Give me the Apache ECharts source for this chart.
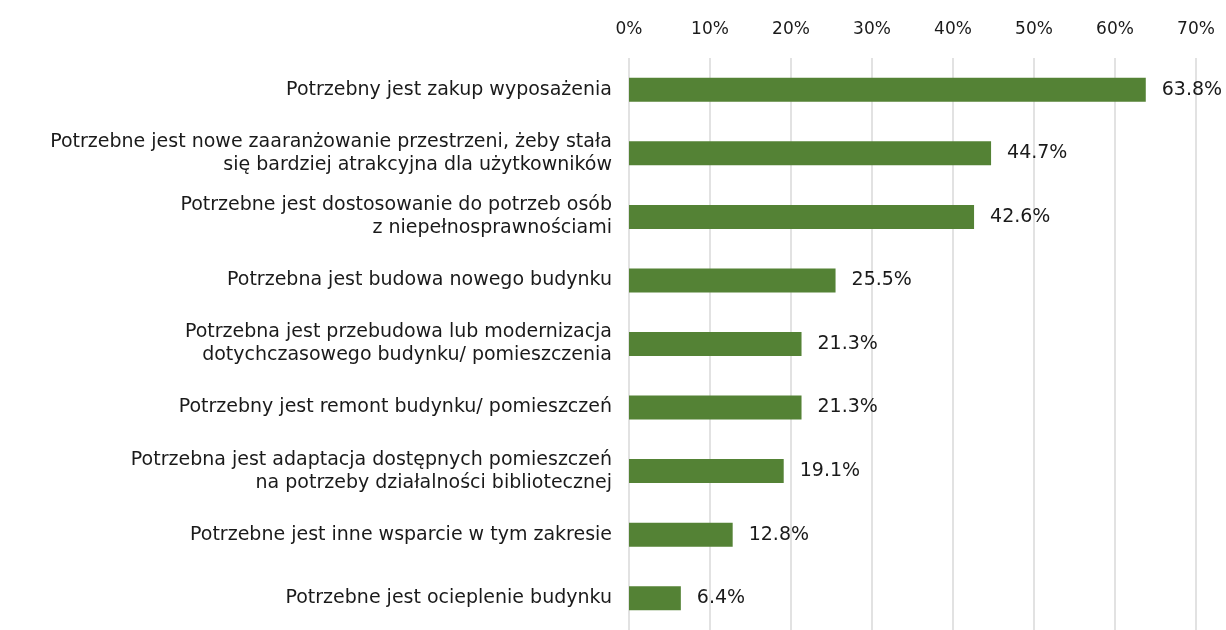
<!DOCTYPE html>
<html>
<head>
<meta charset="utf-8">
<script src="https://cdn.jsdelivr.net/npm/echarts@6/dist/echarts.min.js"></script>
<style>
  html, body { margin: 0; padding: 0; background: #fff; }
  #main { width: 1226px; height: 630px; }
</style>
</head>
<body>
<div id="main"></div>
<script>
// kategorie (od góry do dołu)
var categories = [
  'Potrzebny jest zakup wyposażenia',
  'Potrzebne jest nowe zaaranżowanie przestrzeni, żeby stała\nsię bardziej atrakcyjna dla użytkowników',
  'Potrzebne jest dostosowanie do potrzeb osób\nz niepełnosprawnościami',
  'Potrzebna jest budowa nowego budynku',
  'Potrzebna jest przebudowa lub modernizacja\ndotychczasowego budynku/ pomieszczenia',
  'Potrzebny jest remont budynku/ pomieszczeń',
  'Potrzebna jest adaptacja dostępnych pomieszczeń\nna potrzeby działalności bibliotecznej',
  'Potrzebne jest inne wsparcie w tym zakresie',
  'Potrzebne jest ocieplenie budynku'
]
var values = [63.8, 44.7, 42.6, 25.5, 21.3, 21.3, 19.1, 12.8, 6.4]
var axisMax = 70
var axisStep = 10

var font = 'DejaVu Sans'
var chart = echarts.init(document.getElementById('main'))
chart.setOption({
  animation: false,
  grid: { left: 629, top: 58, width: 567, height: 578, containLabel: false },
  xAxis: {
    type: 'value',
    position: 'top',
    min: 0,
    max: axisMax,
    interval: axisStep,
    axisLine: { show: false },
    axisTick: { show: false },
    axisLabel: {
      formatter: '{value}%',
      color: '#1a1a1a',
      fontFamily: font,
      fontSize: 17,
      margin: 20
    },
    splitLine: { lineStyle: { color: '#d9d9d9', width: 1.5 } }
  },
  yAxis: {
    type: 'category',
    inverse: true,
    data: categories,
    axisLine: { show: false },
    axisTick: { show: false },
    axisLabel: {
      color: '#1a1a1a',
      fontFamily: font,
      fontSize: 19,
      lineHeight: 23,
      align: 'right',
      margin: 17
    }
  },
  series: [{
    type: 'bar',
    data: values,
    barWidth: 24,
    itemStyle: { color: '#548235' },
    label: {
      show: true,
      position: 'right',
      distance: 16,
      color: '#1a1a1a',
      fontFamily: font,
      fontSize: 19,
      formatter: function (p) { return p.value.toFixed(1) + '%' }
    }
  }]
})
</script>
</body>
</html>
